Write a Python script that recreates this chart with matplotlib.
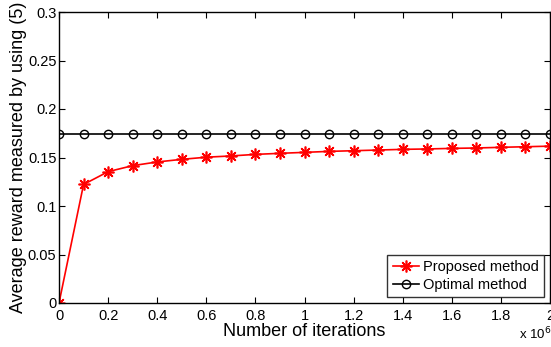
import numpy as np
import matplotlib.pyplot as plt

iterations = [0.0, 0.1, 0.2, 0.3, 0.4, 0.5, 0.6, 0.7, 0.8, 0.9, 1.0,
              1.1, 1.2, 1.3, 1.4, 1.5, 1.6, 1.7, 1.8, 1.9, 2.0]
proposed = [0.0, 0.1222, 0.1354, 0.1416, 0.1454, 0.1481, 0.1503, 0.1516, 0.1532, 0.1543, 0.1553,
            0.1563, 0.1570, 0.1577, 0.1584, 0.1588, 0.1594, 0.1598, 0.1605, 0.1611, 0.1617]
optimal = [0.174] * len(iterations)

x_ticks = [0, 0.2, 0.4, 0.6, 0.8, 1, 1.2, 1.4, 1.6, 1.8, 2]
x_ticklabels = ['0', '0.2', '0.4', '0.6', '0.8', '1', '1.2', '1.4', '1.6', '1.8', '2']
y_ticks = [0, 0.05, 0.1, 0.15, 0.2, 0.25, 0.3]
y_ticklabels = ['0', '0.05', '0.1', '0.15', '0.2', '0.25', '0.3']

plt.rcParams['font.family'] = ['Liberation Sans', 'DejaVu Sans']

fig = plt.figure(figsize=(5.51, 3.47), dpi=100)
ax = fig.add_axes([59 / 551, 1 - 303 / 347, 491 / 551, 291 / 347])

ax.plot(iterations, proposed, '-', color='red', lw=1.2,
        marker=(8, 2, 0), ms=8.5, mew=1.2, label='Proposed method')
ax.plot(iterations, optimal, '-', color='black', lw=1.2,
        marker='o', ms=6, mfc='none', mew=1.0, label='Optimal method')

ax.set_xlim(0, 2)
ax.set_ylim(0, 0.3)
ax.set_xticks(x_ticks)
ax.set_xticklabels(x_ticklabels)
ax.set_yticks(y_ticks)
ax.set_yticklabels(y_ticklabels)
ax.tick_params(direction='in', top=True, right=True, labelsize=10.5, length=4, width=0.8)
ax.tick_params(axis='y', pad=1.8)
ax.tick_params(axis='x', pad=4)
for s in ax.spines.values():
    s.set_linewidth(1.0)

ax.set_xlabel('Number of iterations', fontsize=13, labelpad=0)
ax.set_ylabel('Average reward measured by using (5)', fontsize=13, labelpad=0.5)
fig.text(519 / 551, 1 - 342 / 347, r'x 10$^{6}$', fontsize=9.5, va='bottom')

leg = ax.legend(loc='lower right', fontsize=10.5, frameon=True, fancybox=False,
                edgecolor='black', borderaxespad=0.4, handlelength=1.8,
                borderpad=0.35, labelspacing=0.25, handletextpad=0.3)
leg.get_frame().set_linewidth(1.0)

fig.savefig('out.png', dpi=100)
